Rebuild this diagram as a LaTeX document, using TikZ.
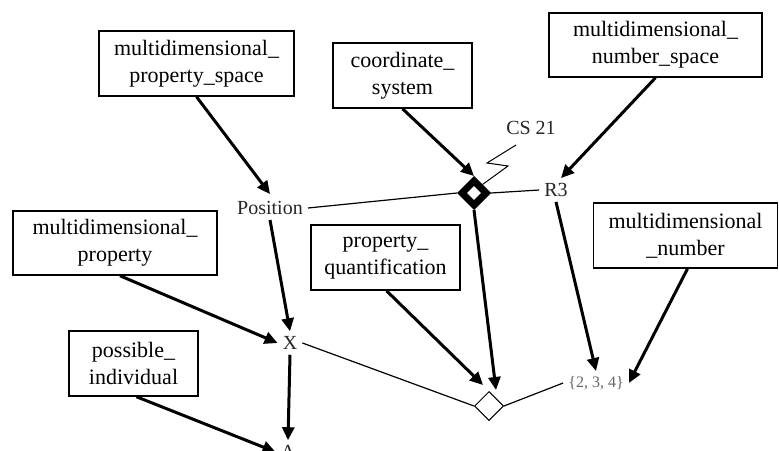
\documentclass[tikz,border=0pt]{standalone}
\usepackage{fontspec}
\setmainfont{Liberation Serif}
\usetikzlibrary{arrows.meta,shapes.geometric}
\tikzset{
  box/.style={draw, line width=1.5pt, align=center, inner sep=0pt,
    font=\fontsize{22}{27}\selectfont},
  lbl/.style={inner sep=5pt, font=\fontsize{20}{24}\selectfont, text=black!85},
  setlbl/.style={inner sep=5pt, font=\fontsize{16}{19}\selectfont, text=black!60},
  arr/.style={line width=3pt, -{Triangle[length=13pt,width=12pt]}},
  link/.style={line width=1.2pt},
}
\begin{document}
\begin{tikzpicture}[x=1pt,y=-1pt]
\useasboundingbox (0,0) rectangle (779,450);
% boxes
\node[box, minimum width=195pt, minimum height=65pt] (mps) at (196.5,63.5) {multidimensional\_\\property\_space};
\node[box, minimum width=139pt, minimum height=65pt] (cs) at (402.5,75.5) {coordinate\_\\system};
\node[box, minimum width=213pt, minimum height=64pt] (mns) at (655.5,45) {multidimensional\_\\number\_space};
\node[box, minimum width=204pt, minimum height=64pt] (mp) at (115,243) {multidimensional\_\\property};
\node[box, minimum width=149pt, minimum height=65pt] (pq) at (385.5,257.5) {property\_\\quantification};
\node[box, minimum width=184pt, minimum height=65pt] (mn) at (685.5,235.5) {multidimensional\\\_number};
\node[box, minimum width=129pt, minimum height=65pt] (pi) at (133.5,363.5) {possible\_\\individual};
% labels
\node[lbl] (pos) at (270,208) {Position};
\node[lbl] (cs21) at (531,128) {CS 21};
\node[lbl] (r3) at (556,190) {R3};
\node[lbl] (x) at (290,343) {X};
\node[lbl] (a) at (288,452) {A};
\node[setlbl] (set) at (596,383) {\{2, 3, 4\}};
% diamonds
\node[draw, diamond, aspect=1, inner sep=0pt, minimum width=27pt, minimum height=27pt, line width=7pt] (bd) at (474,193) {};
\node[draw, diamond, aspect=1, inner sep=0pt, minimum width=29pt, minimum height=29pt, line width=1pt, fill=white] (sd) at (489,406) {};
% thin links
\draw[link] (pos.east) -- (bd.west);
\draw[link] (bd.east) -- (r3.west);
\draw[link] (x.east) -- (sd.west);
\draw[link] (sd.east) -- (set.west);
\coordinate (zz) at (516,145);
\draw[line width=1pt] (bd.north east) -- (508,166) -- (487,163) -- (zz);
% arrows
\draw[arr] (mps.south) -- ([yshift=2pt]pos.north);
\draw[arr] (cs.south) -- (bd.north);
\draw[arr] (mns.south) -- ([xshift=5pt]r3.north);
\draw[arr] (pos.south) -- (x.north);
\draw[arr] ([xshift=5pt]mp.south) -- (x.west);
\draw[arr] ([xshift=3pt]pi.south) -- (a.west);
\draw[arr] (x.south) -- (a.north);
\draw[arr] ([xshift=1pt]pq.south) -- ([xshift=-6pt,yshift=6pt]sd.north);
\draw[arr] (bd.south) -- ([xshift=7pt,yshift=1pt]sd.north);
\draw[arr] (r3.south) -- (set.north);
\draw[arr] ([xshift=2pt]mn.south) -- (set.east);
\end{tikzpicture}
\end{document}
